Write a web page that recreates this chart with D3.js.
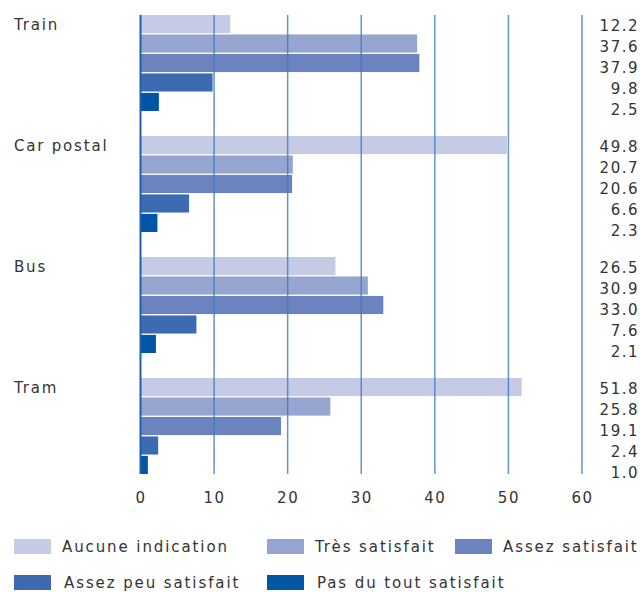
<!DOCTYPE html>
<html>
<head>
<meta charset="utf-8">
<script src="https://cdn.jsdelivr.net/npm/d3@7"></script>
<style>
	body { margin: 0; background: #fff; }
	text { font-family: "DejaVu Sans", sans-serif; font-size: 15px; fill: #333; letter-spacing: 1.5px; }
	.legend text { letter-spacing: 1.9px; }
	.group-label { letter-spacing: 1.8px; }
</style>
</head>
<body>
<div class="canvas"></div>
<script>
var groups = ["Train", "Car postal", "Bus", "Tram"];
var series = ["Aucune indication", "Très satisfait", "Assez satisfait", "Assez peu satisfait", "Pas du tout satisfait"];
var colors = ["#c5cae5", "#96a5d0", "#6b84bf", "#3d6bb1", "#0055a4"];
var ticks = [0, 10, 20, 30, 40, 50, 60];

// values per group, in series order
var train = [12.2, 37.6, 37.9, 9.8, 2.5];
var carPostal = [49.8, 20.7, 20.6, 6.6, 2.3];
var bus = [26.5, 30.9, 33.0, 7.6, 2.1];
var tram = [51.8, 25.8, 19.1, 2.4, 1.0];
var values = [train, carPostal, bus, tram];

var svg = d3.select(".canvas")
			.append("svg")
			.attr("width", 640)
			.attr("height", 592);

var x = d3.scaleLinear().domain([0, 60]).range([140.5, 582]);

var y0 = d3.scaleBand().domain(groups).range([15, 499]);
var y1 = d3.scaleBand().domain(series).range([0, 96]).paddingInner(0.07);
var yLab = d3.scaleBand().domain(series).range([0, 104]).paddingInner(0.07);

var rows = [];
groups.forEach(function(g, gi){
	series.forEach(function(s, si){
		rows.push({group: g, series: s, value: values[gi][si], color: colors[si]});
	});
});

// bars
svg.append("g")
	.selectAll("rect")
	.data(rows)
	.enter()
	.append("rect")
	.attr("x", x(0))
	.attr("y", function(d){ return y0(d.group) + y1(d.series); })
	.attr("width", function(d){ return x(d.value) - x(0); })
	.attr("height", y1.bandwidth())
	.attr("fill", function(d){ return d.color; });

// grid lines on top
var gridBottom = y0("Tram") + 96;
svg.append("g")
	.selectAll("line")
	.data(ticks)
	.enter()
	.append("line")
	.attr("x1", function(d){ return x(d); })
	.attr("x2", function(d){ return x(d); })
	.attr("y1", 15)
	.attr("y2", gridBottom)
	.attr("stroke", function(d){ return d === 0 ? "#1f5fae" : "#3f78bd"; })
	.attr("stroke-opacity", function(d){ return d === 0 ? 1 : 0.8; })
	.attr("stroke-width", function(d){ return d === 0 ? 2 : 1.5; });

// x axis
var axis = svg.append("g")
	.attr("transform", "translate(0," + (gridBottom + 18) + ")")
	.call(d3.axisBottom(x).tickValues(ticks).tickSize(0).tickPadding(0));
axis.select(".domain").remove();
axis.selectAll("text")
	.attr("dy", "0.71em")
	.style("font-size", "15px")
	.style("font-family", "DejaVu Sans, sans-serif")
	.attr("fill", "#333");

// group labels
svg.append("g")
	.selectAll("text")
	.data(groups)
	.enter()
	.append("text")
	.attr("class", "group-label")
	.attr("x", 14)
	.attr("y", function(d){ return y0(d) + 15; })
	.text(function(d){ return d; });

// value labels
svg.append("g")
	.selectAll("text")
	.data(rows)
	.enter()
	.append("text")
	.attr("x", 639)
	.attr("y", function(d){ return y0(d.group) + yLab(d.series) + yLab.bandwidth() / 2 + 6; })
	.attr("text-anchor", "end")
	.text(function(d){ return d.value.toFixed(1); });

// legend
var legendPos = [[14, 539], [267, 539], [455, 539], [14, 575], [267, 575]];
var legend = svg.append("g")
	.attr("class", "legend")
	.selectAll("g")
	.data(series)
	.enter()
	.append("g")
	.attr("transform", function(d, i){ return "translate(" + legendPos[i][0] + "," + legendPos[i][1] + ")"; });

legend.append("rect")
	.attr("width", 37)
	.attr("height", 15)
	.attr("fill", function(d, i){ return colors[i]; });

legend.append("text")
	.attr("x", function(d, i){ return i === 3 || i === 4 ? 50 : 48; })
	.attr("y", 13)
	.text(function(d){ return d; });
</script>
</body>
</html>
